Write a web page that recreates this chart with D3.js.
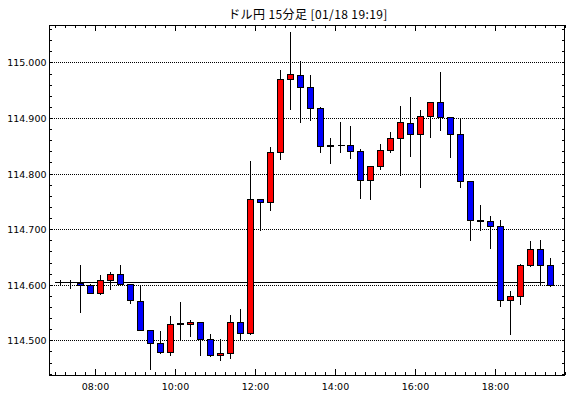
<!DOCTYPE html>
<html>
<head>
<meta charset="utf-8">
<script src="https://cdn.jsdelivr.net/npm/d3@7"></script>
<style>
body { margin: 0; background: #fff; }
svg { display: block; }
</style>
</head>
<body>
<svg id="chart" width="570" height="398"></svg>
<script>

var title = "ドル円 15分足 [01/18 19:19]";

var times = ["07:00","07:15","07:30","07:45","08:00","08:15","08:30","08:45","09:00","09:15",
             "09:30","09:45","10:00","10:15","10:30","10:45","11:00","11:15","11:30","11:45",
             "12:00","12:15","12:30","12:45","13:00","13:15","13:30","13:45","14:00","14:15",
             "14:30","14:45","15:00","15:15","15:30","15:45","16:00","16:15","16:30","16:45",
             "17:00","17:15","17:30","17:45","18:00","18:15","18:30","18:45","19:00","19:15"];

var opens = [114.605,114.605,114.604,114.600,114.586,114.609,114.620,114.602,114.571,114.518,
             114.496,114.479,114.531,114.529,114.533,114.503,114.474,114.478,114.533,114.514,
             114.754,114.749,114.839,114.971,114.978,114.956,114.918,114.852,114.852,114.852,
             114.841,114.788,114.814,114.842,114.864,114.891,114.872,114.904,114.929,114.902,
             114.872,114.787,114.717,114.715,114.706,114.573,114.580,114.636,114.665,114.636];

var highs = [114.610,114.611,114.638,114.603,114.619,114.624,114.637,114.602,114.602,114.518,
             114.518,114.545,114.570,114.539,114.533,114.514,114.505,114.548,114.559,114.825,
             114.754,114.850,114.989,115.056,115.005,114.980,114.921,114.865,114.894,114.887,
             114.846,114.816,114.855,114.876,114.923,114.939,114.917,114.929,114.984,114.904,
             114.900,114.789,114.746,114.726,114.719,114.591,114.640,114.681,114.683,114.649];

var lows = [114.600,114.595,114.551,114.585,114.584,114.592,114.600,114.567,114.518,114.448,
            114.477,114.473,114.501,114.507,114.473,114.472,114.465,114.469,114.500,114.512,
            114.699,114.735,114.827,114.916,114.893,114.897,114.839,114.819,114.839,114.828,
            114.756,114.754,114.808,114.839,114.798,114.831,114.775,114.866,114.878,114.830,
            114.776,114.680,114.698,114.666,114.561,114.511,114.566,114.634,114.602,114.598];

var closes = [114.605,114.605,114.600,114.586,114.609,114.620,114.602,114.573,114.518,114.496,
              114.479,114.530,114.529,114.533,114.503,114.473,114.478,114.533,114.514,114.754,
              114.749,114.839,114.971,114.980,114.956,114.918,114.849,114.850,114.852,114.841,
              114.788,114.814,114.843,114.864,114.893,114.872,114.904,114.929,114.902,114.872,
              114.787,114.716,114.715,114.705,114.573,114.580,114.636,114.665,114.636,114.600];

var yLabels = [114.5, 114.6, 114.7, 114.8, 114.9, 115.0];
var baseLine = 114.605;

var parseTime = d3.timeParse("%H:%M");

var svg = d3.select("#chart");
var plotLeft = 49, plotRight = 564, plotTop = 25, plotBottom = 375;

var x = d3.scaleTime()
    .domain([parseTime("06:51"), parseTime("19:45")])
    .rangeRound([plotLeft, plotRight + 1]);

var y = d3.scaleLinear()
    .domain([114.4376, 115.0673])
    .rangeRound([plotBottom, plotTop]);

var candles = times.map(function(t, i) {
    return { t: parseTime(t), o: opens[i], h: highs[i], l: lows[i], c: closes[i] };
});

// title
svg.append("text")
    .attr("x", 308)
    .attr("y", 19)
    .attr("text-anchor", "middle")
    .style("font-family", "'Noto Sans CJK JP', 'DejaVu Sans', sans-serif")
    .style("font-size", "12px")
    .style("letter-spacing", "0.4px")
    .text(title);

// dotted grid
svg.append("g").selectAll("line")
    .data(yLabels)
    .enter().append("line")
    .attr("x1", plotLeft + 1)
    .attr("x2", plotRight)
    .attr("y1", function(d) { return y(d) + 0.5; })
    .attr("y2", function(d) { return y(d) + 0.5; })
    .attr("stroke", "#000")
    .attr("stroke-dasharray", "1,1")
    .attr("shape-rendering", "crispEdges");

// reference line
svg.append("line")
    .attr("x1", x(candles[0].t))
    .attr("x2", x(candles[candles.length - 1].t))
    .attr("y1", y(baseLine) + 0.5)
    .attr("y2", y(baseLine) + 0.5)
    .attr("stroke", "#000")
    .attr("shape-rendering", "crispEdges");

// candles
var g = svg.append("g").attr("shape-rendering", "crispEdges");

g.selectAll(".wick")
    .data(candles)
    .enter().append("line")
    .attr("class", "wick")
    .attr("x1", function(d) { return x(d.t) + 5.5; })
    .attr("x2", function(d) { return x(d.t) + 5.5; })
    .attr("y1", function(d) { return y(d.h) + 0.5; })
    .attr("y2", function(d) { return y(d.l) + 0.5; })
    .attr("stroke", "#000");

candles.forEach(function(d) {
    var cx = x(d.t) + 5.5;
    var y0 = Math.min(y(d.o), y(d.c));
    var y1 = Math.max(y(d.o), y(d.c));
    if (y1 - y0 < 1) {
        g.append("line")
            .attr("x1", cx - 3).attr("x2", cx + 4)
            .attr("y1", y0 + 0.5).attr("y2", y0 + 0.5)
            .attr("stroke", "#000");
    } else {
        g.append("rect")
            .attr("x", cx - 3)
            .attr("y", y0 + 0.5)
            .attr("width", 6)
            .attr("height", y1 - y0)
            .attr("fill", d.c >= d.o ? "#ff0000" : "#0000ff")
            .attr("stroke", "#000");
    }
});

// axes
var minorX = d3.timeMinute.every(15);
var majorX = d3.timeHour.every(2);
var minorY = d3.range(114.44, 115.07, 0.02);

function clean(sel) {
    sel.select(".domain").remove();
    sel.selectAll("line").attr("stroke", "#000").attr("shape-rendering", "crispEdges");
    sel.selectAll("text").attr("fill", "#000");
}

svg.append("g").attr("transform", "translate(0," + plotBottom + ")")
    .call(d3.axisBottom(x).ticks(minorX).tickSize(-3).tickFormat(""))
    .call(clean);

svg.append("g").attr("transform", "translate(0," + plotBottom + ")")
    .call(d3.axisBottom(x).ticks(majorX).tickSize(-6).tickPadding(8).tickFormat(d3.timeFormat("%H:%M")))
    .call(clean)
    .selectAll("text")
    .style("font-family", "'DejaVu Sans', sans-serif")
    .style("font-size", "9.5px");

svg.append("g").attr("transform", "translate(0," + plotTop + ")")
    .call(d3.axisTop(x).ticks(minorX).tickSize(-3).tickFormat(""))
    .call(clean);

svg.append("g").attr("transform", "translate(0," + plotTop + ")")
    .call(d3.axisTop(x).ticks(majorX).tickSize(-6).tickFormat(""))
    .call(clean);

svg.append("g").attr("transform", "translate(" + plotLeft + ",0)")
    .call(d3.axisLeft(y).tickValues(minorY).tickSize(-3).tickFormat(""))
    .call(clean);

svg.append("g").attr("transform", "translate(" + plotLeft + ",0)")
    .call(d3.axisLeft(y).tickValues(yLabels).tickSize(0).tickPadding(2.5).tickFormat(d3.format(".3f")))
    .call(clean)
    .selectAll("text")
    .style("font-family", "'DejaVu Sans', sans-serif")
    .style("font-size", "9.5px");

svg.append("g").attr("transform", "translate(" + (plotRight + 1) + ",0)")
    .call(d3.axisRight(y).tickValues(minorY).tickSize(-3).tickFormat(""))
    .call(clean);

// frame
svg.append("rect")
    .attr("x", plotLeft + 0.5)
    .attr("y", plotTop + 0.5)
    .attr("width", plotRight - plotLeft)
    .attr("height", plotBottom - plotTop)
    .attr("fill", "none")
    .attr("stroke", "#000")
    .attr("shape-rendering", "crispEdges");

</script>
</body>
</html>
